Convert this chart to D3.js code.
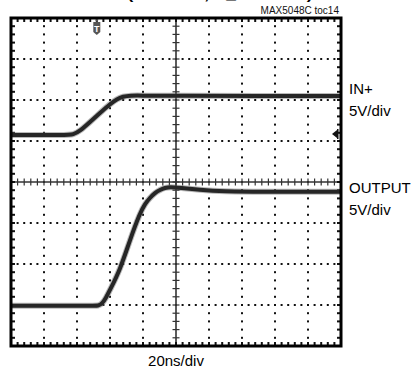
<!DOCTYPE html>
<html>
<head>
<meta charset="utf-8">
<script src="https://cdn.jsdelivr.net/npm/d3@7"></script>
<style>
html,body{margin:0;padding:0;background:#fff;}
svg{display:block;font-family:"Liberation Sans",Arial,sans-serif;}
</style>
</head>
<body>
<svg id="chart" width="412" height="382"></svg>
<script>
// ---- data ----
const titleText = "(V+ = 12V, C_L = 10nF)";
const noteText = "MAX5048C toc14";
const timeLabel = "20ns/div";
const channelNames = ["IN+", "OUTPUT"];
const channelScales = ["5V/div", "5V/div"];
const channelOffsetsDiv = [1.146, -3.02];   // ground level of each trace, in divisions
const timeDomainNs = [-100, 100];          // 10 divisions × 20 ns
const voltDomainDiv = [-4, 4];             // 8 divisions

const inTimeNs =  [-100, -66, -62.4, -58.2, -52.1, -46.1, -40.0, -35.8, -32.1, -27.9, -20, 0, 50, 100];
const inVolts =   [0,     0,   0.05,  0.49,  1.59,  2.68,  3.78,  4.39,  4.70,  4.82, 4.80, 4.78, 4.76, 4.76];

const outTimeNs = [-100, -50, -47.3, -44.8, -42.4, -40.0, -33.9, -27.9, -21.8, -18.8, -15.8, -12.7, -9.7, -6.7, -3.6, 2.4, 14.5, 26.7, 60, 100];
const outVolts =  [0,     0,   0,     0.24,  0.98,  1.95,  4.39,  8.05, 11.34, 12.44, 13.17, 13.78, 14.15, 14.39, 14.51, 14.39, 14.15, 13.95, 13.9, 13.9];

const voltsPerDiv = 5;
const triggerTimeNs = -48;
const triggerLevelDiv = 1.17; // trigger arrow position (div)

// ---- layout ----
const L = 11, T = 18, W = 330, H = 328;
const svg = d3.select("#chart");

const x = d3.scaleLinear().domain(timeDomainNs).range([L, L + W]);
const y = d3.scaleLinear().domain(voltDomainDiv).range([T + H, T]);

const g = svg.append("g");

const xDivs = d3.range(-5, 6).map(d => d * 20);
const yDivs = d3.range(-4, 5);
const xMinor = d3.range(-50, 51).map(k => k * 4);      // 5 per div (ns)
const yMinor = d3.range(-20, 21).map(k => k * 0.2);    // 5 per div

// dotted grid — vertical
xDivs.filter(v => v !== 0 && Math.abs(v) !== 100).forEach(v => {
  g.selectAll(null).data(yMinor.filter(m => Math.abs(m) < 4))
    .enter().append("rect")
    .attr("x", x(v) - 1).attr("y", d => y(d) - 1)
    .attr("width", 2).attr("height", 2).attr("fill", "#111");
});
// dotted grid — horizontal
yDivs.filter(v => v !== 0 && Math.abs(v) !== 4).forEach(v => {
  g.selectAll(null).data(xMinor.filter(m => Math.abs(m) < 100))
    .enter().append("rect")
    .attr("x", d => x(d) - 1).attr("y", y(v) - 1)
    .attr("width", 2).attr("height", 2).attr("fill", "#111");
});

// center axes (solid with ticks)
g.append("line").attr("x1", L).attr("x2", L + W).attr("y1", y(0)).attr("y2", y(0))
  .attr("stroke", "#333").attr("stroke-width", 1.6);
g.append("line").attr("x1", x(0)).attr("x2", x(0)).attr("y1", T).attr("y2", T + H)
  .attr("stroke", "#333").attr("stroke-width", 1.6);
g.selectAll(null).data(xMinor.filter(m => Math.abs(m) < 100)).enter().append("line")
  .attr("x1", d => x(d)).attr("x2", d => x(d))
  .attr("y1", y(0) - 3.5).attr("y2", y(0) + 3.5)
  .attr("stroke", "#333").attr("stroke-width", 1.2);
g.selectAll(null).data(yMinor.filter(m => Math.abs(m) < 4)).enter().append("line")
  .attr("y1", d => y(d)).attr("y2", d => y(d))
  .attr("x1", x(0) - 3.5).attr("x2", x(0) + 3.5)
  .attr("stroke", "#333").attr("stroke-width", 1.2);

// edge ticks
g.selectAll(null).data(xMinor.filter(m => Math.abs(m) < 100)).enter().append("rect")
  .attr("x", d => x(d) - 1).attr("y", T + 1).attr("width", 2).attr("height", 3).attr("fill", "#111");
g.selectAll(null).data(xMinor.filter(m => Math.abs(m) < 100)).enter().append("rect")
  .attr("x", d => x(d) - 1).attr("y", T + H - 4).attr("width", 2).attr("height", 3).attr("fill", "#111");
g.selectAll(null).data(yMinor.filter(m => Math.abs(m) < 4)).enter().append("rect")
  .attr("x", L + 1).attr("y", d => y(d) - 1).attr("width", 3).attr("height", 2).attr("fill", "#111");
g.selectAll(null).data(yMinor.filter(m => Math.abs(m) < 4)).enter().append("rect")
  .attr("x", L + W - 4).attr("y", d => y(d) - 1).attr("width", 3).attr("height", 2).attr("fill", "#111");

// traces
const mkLine = (off) => d3.line()
  .x(d => x(d[0]))
  .y(d => y(off + d[1] / voltsPerDiv))
  .curve(d3.curveBasis);

const traces = [
  { t: inTimeNs, v: inVolts, off: channelOffsetsDiv[0] },
  { t: outTimeNs, v: outVolts, off: channelOffsetsDiv[1] }
];
traces.forEach(tr => {
  const pts = tr.t.map((t, i) => [t, tr.v[i]]);
  g.append("path").attr("d", mkLine(tr.off)(pts))
    .attr("fill", "none").attr("stroke", "#666").attr("stroke-width", 6).attr("opacity", 0.45);
  g.append("path").attr("d", mkLine(tr.off)(pts))
    .attr("fill", "none").attr("stroke", "#262626").attr("stroke-width", 4);
});

// border
g.append("rect").attr("x", L).attr("y", T).attr("width", W).attr("height", H)
  .attr("fill", "none").attr("stroke", "#000").attr("stroke-width", 3);

// trigger position marker
const tx = x(triggerTimeNs);
g.append("path")
  .attr("d", `M${tx - 3.5},${T + 4} L${tx + 3.5},${T + 4} L${tx + 3.5},${T + 14} L${tx},${T + 17} L${tx - 3.5},${T + 14} Z`)
  .attr("fill", "#555");
g.append("path").attr("d", `M${tx - 2},${T + 1.5} L${tx + 2},${T + 1.5} L${tx},${T + 4} Z`).attr("fill", "#555");
g.append("text").attr("x", tx).attr("y", T + 13.5).attr("text-anchor", "middle")
  .attr("font-size", 9).attr("font-weight", "bold").attr("fill", "#fff").text("T");

// trigger level arrow (right edge)
const ty = y(triggerLevelDiv);
g.append("path")
  .attr("d", `M${L + W - 9},${ty} L${L + W - 4},${ty - 4} L${L + W - 4},${ty + 4} Z M${L + W - 4},${ty - 5} L${L + W - 2.5},${ty - 5} L${L + W - 2.5},${ty + 5} L${L + W - 4},${ty + 5} Z`)
  .attr("fill", "#111");

// texts
svg.append("text").attr("x", 220).attr("y", -1).attr("text-anchor", "middle")
  .attr("font-size", 15).attr("font-weight", "bold")
  .attr("textLength", 185).attr("lengthAdjust", "spacingAndGlyphs").text(titleText);
svg.append("text").attr("x", 339).attr("y", 14).attr("text-anchor", "end")
  .attr("font-size", 10).attr("fill", "#111").text(noteText);

const labelY = [[94, 116], [193, 215]];
channelNames.forEach((n, i) => {
  svg.append("text").attr("x", 349).attr("y", labelY[i][0]).attr("font-size", 15).text(n);
  svg.append("text").attr("x", 349).attr("y", labelY[i][1]).attr("font-size", 15).text(channelScales[i]);
});
svg.append("text").attr("x", 176).attr("y", 366).attr("text-anchor", "middle")
  .attr("font-size", 15).text(timeLabel);
</script>
</body>
</html>
